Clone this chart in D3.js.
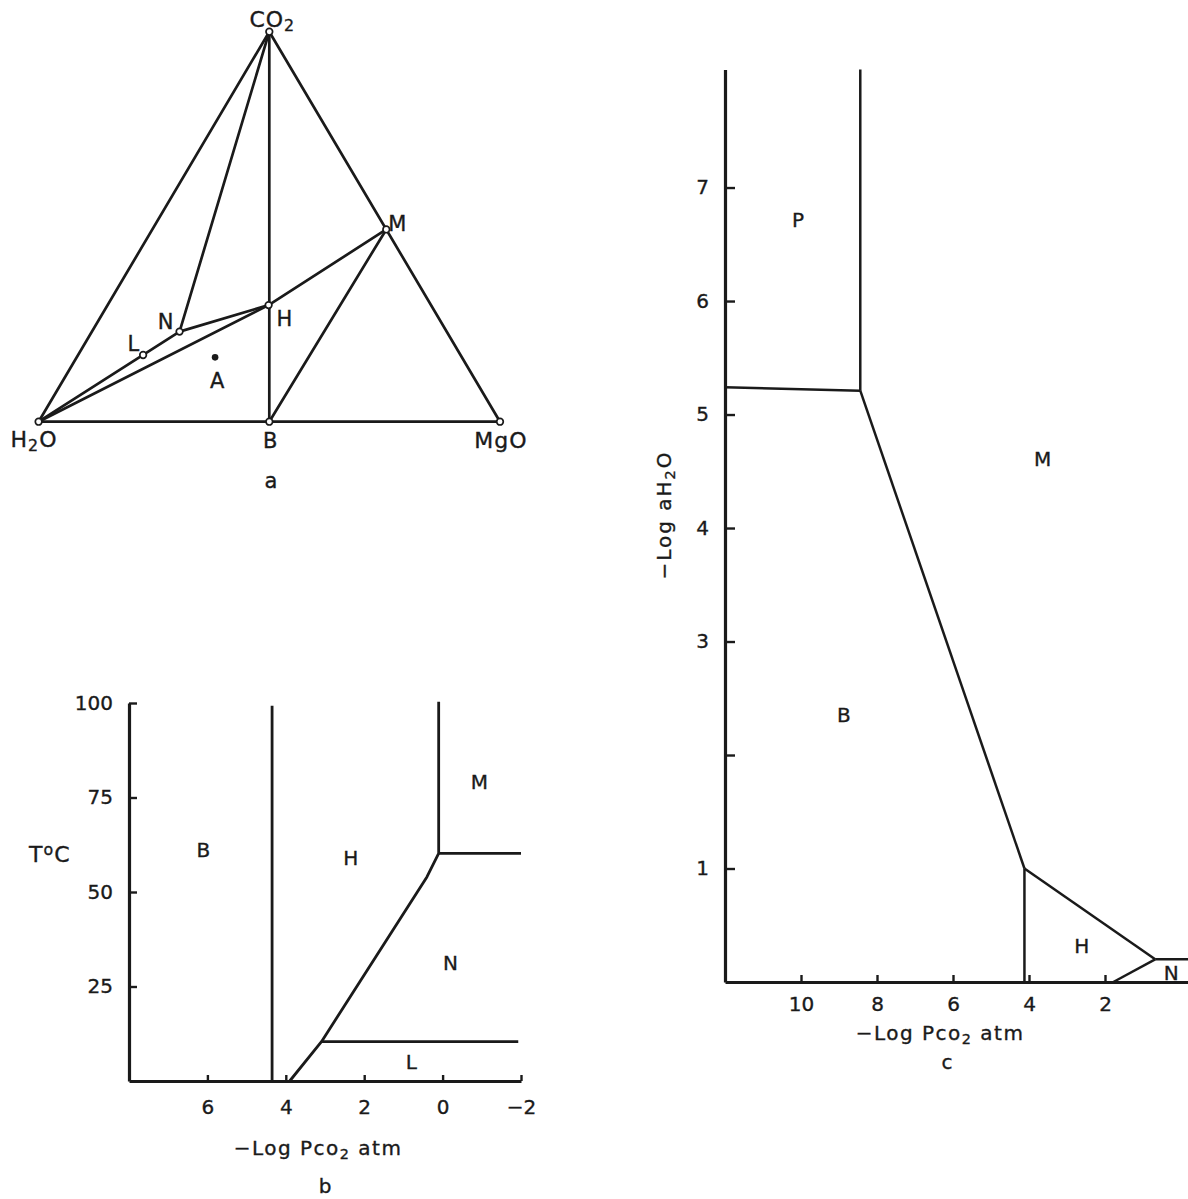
<!DOCTYPE html>
<html>
<head>
<meta charset="utf-8">
<script src="https://cdn.jsdelivr.net/npm/d3@7"></script>
<style>
  html, body { margin: 0; padding: 0; background: #fff; }
  svg { display: block; }
  text { font-family: "DejaVu Sans", sans-serif; fill: #1a1a1a; stroke: #1a1a1a; stroke-width: 0.35px; }
</style>
</head>
<body>
<svg id="chart" width="1188" height="1199"></svg>
<script>
// ---------- Panel a : ternary CO2 – H2O – MgO ----------
const phaseNames = ["CO2", "H2O", "MgO", "B", "M", "H", "N", "L", "A"];
const phaseH2O   = [0, 1, 0, 0.5, 0.0,   0.352, 0.579, 0.688, 0.535];
const phaseCO2   = [1, 0, 0, 0,   0.493, 0.299, 0.231, 0.171, 0.165];
const phaseMgO   = [0, 0, 1, 0.5, 0.507, 0.349, 0.190, 0.141, 0.300];
const tieLines = [
  ["H2O", "CO2"], ["CO2", "MgO"], ["H2O", "MgO"], ["CO2", "B"], ["CO2", "N"],
  ["H2O", "N"], ["N", "H"], ["H", "M"], ["H2O", "H"], ["M", "B"]
];
const openNodes = ["CO2", "H2O", "MgO", "B", "M", "H", "N", "L"];
const filledNodes = ["A"];

// ---------- Panel b : T vs -log PCO2 ----------
const bXTicks = [6, 4, 2, 0, -2];
const bYTicks = [25, 50, 75, 100];
const bBoundaries = [
  [[4.35, 0], [4.35, 99.3]],
  [[3.9, 0], [3.09, 10.4], [0.40, 54], [0.10, 60.2], [0.10, 100.3]],
  [[0.10, 60.2], [-2, 60.2]],
  [[3.09, 10.4], [-1.93, 10.4]]
];
const bFieldLabels = ["B", "H", "M", "N", "L"];
const bFieldX = [6.1, 2.34, -0.94, -0.2, 0.8];
const bFieldY = [61, 59, 79, 31.2, 5];

// ---------- Panel c : -log aH2O vs -log PCO2 ----------
const cXTicks = [10, 8, 6, 4, 2];
const cYTicks = [1, 2, 3, 4, 5, 6, 7];
const cYTickLabels = ["1", "", "3", "4", "5", "6", "7"];
const cBoundaries = [
  [[8.44, 8.04], [8.44, 5.21]],
  [[12, 5.24], [8.44, 5.21]],
  [[8.44, 5.21], [4.12, 1.0]],
  [[4.12, 1.0], [4.12, 0]],
  [[4.12, 1.0], [0.68, 0.2]],
  [[0.68, 0.2], [-0.2, 0.2]],
  [[0.68, 0.2], [1.78, 0]]
];
const cFieldLabels = ["P", "M", "B", "H", "N"];
const cFieldX = [10.08, 3.64, 8.87, 2.61, 0.26];
const cFieldY = [6.71, 4.61, 2.35, 0.32, 0.08];

// =====================================================
const svg = d3.select("#chart");
const INK = "#1a1a1a";
const FS = 19;

function addSubText(g, x, y, parts, anchor, fs, ls) {
  // parts: [text, kind]; kind "n" normal, "s" subscript, "p" superscript
  fs = fs || FS;
  const t = g.append("text").attr("x", x).attr("y", y)
    .attr("text-anchor", anchor || "middle").attr("font-size", fs);
  if (ls) t.attr("letter-spacing", ls);
  parts.forEach(([s, k]) => {
    const ts = t.append("tspan").text(s);
    if (k === "s") ts.attr("font-size", fs * 0.72).attr("baseline-shift", "-28%");
    if (k === "p") ts.attr("font-size", fs * 0.72).attr("baseline-shift", "45%");
  });
  return t;
}

// ---------- Panel a ----------
{
  const g = svg.append("g");
  const tx = d3.scaleLinear().domain([0, 1]).range([38.6, 500]);
  const ty = d3.scaleLinear().domain([0, 1]).range([421.7, 31.7]);
  const pos = {};
  phaseNames.forEach((n, i) => {
    pos[n] = [tx(phaseMgO[i] + phaseCO2[i] / 2), ty(phaseCO2[i])];
  });
  const line = d3.line();
  g.selectAll("path.tie").data(tieLines).join("path")
    .attr("d", d => line([pos[d[0]], pos[d[1]]]))
    .attr("fill", "none").attr("stroke", INK).attr("stroke-width", 2.7)
    .attr("stroke-linecap", "round");
  g.selectAll("circle.open").data(openNodes).join("circle")
    .attr("cx", d => pos[d][0]).attr("cy", d => pos[d][1]).attr("r", 3.3)
    .attr("fill", "#fff").attr("stroke", INK).attr("stroke-width", 1.7);
  g.selectAll("circle.fill").data(filledNodes).join("circle")
    .attr("cx", d => pos[d][0]).attr("cy", d => pos[d][1]).attr("r", 3.3)
    .attr("fill", INK);

  const AF = 21;
  addSubText(g, pos.CO2[0] + 3, 27, [["CO", "n"], ["2", "s"]], "middle", 22, 1);
  addSubText(g, 34, 447, [["H", "n"], ["2", "s"], ["O", "n"]], "middle", 22, 1);
  addSubText(g, pos.B[0] + 1, 448, [["B", "n"]], "middle", AF);
  addSubText(g, 501, 448, [["MgO", "n"]], "middle", 22, 1);
  addSubText(g, pos.M[0] + 2, 231, [["M", "n"]], "start", AF);
  addSubText(g, pos.H[0] + 8, 326, [["H", "n"]], "start", AF);
  addSubText(g, pos.N[0] - 6, 329, [["N", "n"]], "end", AF);
  addSubText(g, pos.L[0] - 4, 351, [["L", "n"]], "end", AF);
  addSubText(g, pos.A[0] + 2, 388, [["A", "n"]], "middle", AF);
  addSubText(g, 271, 488, [["a", "n"]], "middle", AF);
}

function styleAxis(sel, fs) {
  sel.attr("font-family", "DejaVu Sans, sans-serif").attr("font-size", fs || FS);
  sel.selectAll("path.domain").attr("stroke", INK).attr("stroke-width", 3.2);
  sel.selectAll(".tick line").attr("stroke", INK).attr("stroke-width", 2.4);
  sel.selectAll(".tick text").attr("fill", INK);
}

// ---------- Panel b ----------
{
  const g = svg.append("g");
  const x = d3.scaleLinear().domain([8, -2]).range([129, 521]);
  const y = d3.scaleLinear().domain([0, 100]).range([1081, 703]);
  const ax = g.append("g").attr("transform", `translate(0,${y(0)})`)
    .call(d3.axisBottom(x).tickValues(bXTicks).tickSize(-6).tickSizeOuter(0).tickPadding(19)
      .tickFormat(d => d < 0 ? "\u2212" + Math.abs(d) : d));
  styleAxis(ax, 20);
  const ay = g.append("g").attr("transform", `translate(${x(8)},0)`)
    .call(d3.axisLeft(y).tickValues(bYTicks).tickSize(-8).tickSizeOuter(0).tickPadding(16));
  styleAxis(ay, 20);

  const line = d3.line().x(d => x(d[0])).y(d => y(d[1]));
  g.selectAll("path.bd").data(bBoundaries).join("path")
    .attr("d", line).attr("fill", "none").attr("stroke", INK)
    .attr("stroke-width", 2.8).attr("stroke-linejoin", "round");

  bFieldLabels.forEach((lab, i) => {
    g.append("text").attr("x", x(bFieldX[i])).attr("y", y(bFieldY[i]))
      .attr("text-anchor", "middle").attr("dominant-baseline", "central")
      .attr("font-size", 20).text(lab);
  });
  addSubText(g, 29, 862, [["T", "n"], ["o", "p"], ["C", "n"]], "start", 22, 1);
  addSubText(g, 318, 1155, [["\u2212Log P", "n"], ["co", "n"], ["2", "s"], [" atm", "n"]], "middle", 20, 1.5);
  addSubText(g, 325, 1193, [["b", "n"]], "middle", 20);
}

// ---------- Panel c ----------
{
  const g = svg.append("g");
  const x = d3.scaleLinear().domain([12, -0.2]).range([725, 1188.6]);
  const y = d3.scaleLinear().domain([0, 8.04]).range([982, 69.5]);
  const ax = g.append("g").attr("transform", `translate(0,${y(0)})`)
    .call(d3.axisBottom(x).tickValues(cXTicks).tickSize(-7).tickSizeOuter(0).tickPadding(15));
  styleAxis(ax, 20);
  const ay = g.append("g").attr("transform", `translate(${x(12)},0)`)
    .call(d3.axisLeft(y).tickValues(cYTicks).tickSize(-10).tickSizeOuter(0).tickPadding(16)
      .tickFormat((d, i) => cYTickLabels[i]));
  styleAxis(ay, 20);

  const line = d3.line().x(d => x(d[0])).y(d => y(d[1]));
  g.selectAll("path.bd").data(cBoundaries).join("path")
    .attr("d", line).attr("fill", "none").attr("stroke", INK)
    .attr("stroke-width", 2.5).attr("stroke-linejoin", "round");

  cFieldLabels.forEach((lab, i) => {
    g.append("text").attr("x", x(cFieldX[i])).attr("y", y(cFieldY[i]))
      .attr("text-anchor", "middle").attr("dominant-baseline", "central")
      .attr("font-size", 20).text(lab);
  });
  const yl = addSubText(g, 0, 0, [["\u2212Log  a", "n"], ["H", "n"], ["2", "s"], ["O", "n"]], "middle", 20, 2);
  yl.attr("transform", "translate(671,515) rotate(-90)");
  addSubText(g, 940, 1040, [["\u2212Log P", "n"], ["co", "n"], ["2", "s"], [" atm", "n"]], "middle", 20, 1.5);
  addSubText(g, 947, 1069, [["c", "n"]], "middle", 20);
}
</script>
</body>
</html>
